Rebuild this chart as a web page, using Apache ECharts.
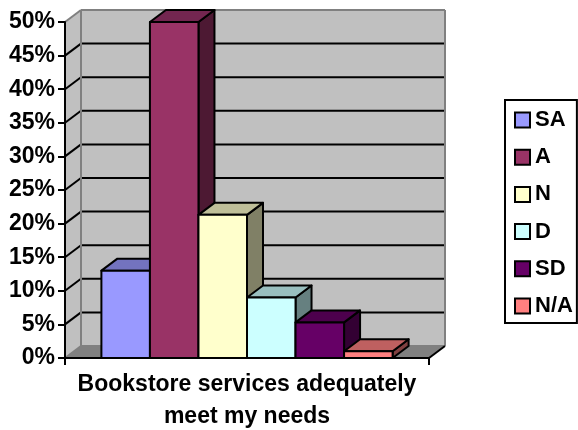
<!DOCTYPE html>
<html><head><meta charset="utf-8">
<style>html,body{margin:0;padding:0;background:#fff}#c{width:578px;height:430px}</style>
<script src="https://cdn.jsdelivr.net/npm/echarts@6/dist/echarts.min.js"></script>
</head><body><div id="c"></div>
<script>
const categories = ['Bookstore services adequately\nmeet my needs'];
const seriesNames = ['SA','A','N','D','SD','N/A'];
const seriesValues = [13, 50, 21.3, 9, 5.3, 1];
const faceColors = ['#9999ff','#993366','#ffffcc','#ccffff','#660066','#ff8080'];
const topColors  = ['#7373bf','#732650','#bfbf99','#99bfbf','#4d004d','#bf6060'];
const sideColors = ['#4d4d80','#4d1933','#808066','#668080','#330033','#804040'];
const yTicks = [0,5,10,15,20,25,30,35,40,45,50];
const DX = 16, DY = -12, GROUP = 0.8;
const FONT = '"Liberation Sans", Arial, sans-serif';

function poly(points, fill, stroke, lw) {
  return {type:'polygon', shape:{points}, style:{fill, stroke, lineWidth:lw, lineJoin:'round'}};
}
function line(x1,y1,x2,y2,stroke,lw){
  return {type:'line', shape:{x1,y1,x2,y2}, style:{stroke, lineWidth:lw}};
}
function renderWall(params, api) {
  const band = api.size([1,0])[0];
  const cx = api.coord([0,0])[0];
  const L = cx - band/2, R = cx + band/2;
  const y0 = api.coord([0,0])[1], yT = api.coord([0,50])[1];
  const ch = [
    poly([[L,y0],[L+DX,y0+DY],[R+DX,y0+DY],[R,y0]], '#808080', 'none', 0),
    poly([[L,y0],[L+DX,y0+DY],[L+DX,yT+DY],[L,yT]], '#c0c0c0', 'none', 0),
    poly([[L+DX,y0+DY],[R+DX,y0+DY],[R+DX,yT+DY],[L+DX,yT+DY]], '#c0c0c0', 'none', 0)
  ];
  yTicks.forEach(t => {
    const y = api.coord([0,t])[1];
    if (t > 0 && t < 50) {
      ch.push(line(L,y,L+DX,y+DY,'#000',2));
      ch.push(line(L+DX,y+DY,R+DX,y+DY,'#000',2));
    }
  });
  ch.push(line(L+DX,y0+DY,R+DX,y0+DY,'#808080',2));
  ch.push(line(L+DX,yT+DY,R+DX,yT+DY,'#808080',2));
  ch.push(line(L+DX,y0+DY,L+DX,yT+DY,'#808080',2));
  ch.push(line(R+DX,y0+DY,R+DX,yT+DY,'#808080',2));
  ch.push(line(L,yT,L+DX,yT+DY,'#808080',2));
  ch.push(line(L,y0,L+DX,y0+DY,'#808080',2));
  ch.push(line(R,y0,R+DX,y0+DY,'#000',2));
  return {type:'group', children:ch};
}
function renderBar(i) {
  return function(params, api) {
    const band = api.size([1,0])[0];
    const cx = api.coord([0,0])[0];
    const w = band*GROUP/seriesNames.length;
    const x = cx - band*GROUP/2 + i*w;
    const y0 = api.coord([0,0])[1];
    const y = api.coord([0,api.value(1)])[1];
    const s = '#000', lw = 2;
    return {type:'group', children:[
      poly([[x+w,y0],[x+w+DX,y0+DY],[x+w+DX,y+DY],[x+w,y]], sideColors[i], s, lw),
      poly([[x,y],[x+DX,y+DY],[x+w+DX,y+DY],[x+w,y]], topColors[i], s, lw),
      poly([[x,y0],[x+w,y0],[x+w,y],[x,y]], faceColors[i], s, lw)
    ]};
  };
}
const series = [{
  type:'custom', name:'wall', silent:true, z:1, data:[[0,0]], renderItem:renderWall,
  encode:{x:0,y:1}, tooltip:{show:false}
}];
seriesNames.forEach((n,i)=>series.push({
  type:'custom', name:n, z:2+i, data:[[0,seriesValues[i]]], renderItem:renderBar(i),
  encode:{x:0,y:1}, itemStyle:{color:faceColors[i]}
}));
const chart = echarts.init(document.getElementById('c'), null, {renderer:'canvas'});
chart.setOption({
  animation:false,
  backgroundColor:'#ffffff',
  grid:{left:65,right:149,top:22,bottom:72,containLabel:false,outerBoundsMode:'none'},
  legend:{
    data:seriesNames, orient:'vertical', left:505, top:100,
    padding:[9,4,6,9], itemGap:15.2, itemWidth:15, itemHeight:15,
    borderColor:'#000', borderWidth:2, backgroundColor:'#fff', selectedMode:false,
    itemStyle:{borderColor:'#000',borderWidth:2},
    textStyle:{fontFamily:FONT,fontWeight:'bold',fontSize:22,color:'#000',lineHeight:22},
    icon:'rect'
  },
  xAxis:{
    type:'category', data:categories, z:20,
    axisLine:{lineStyle:{color:'#000',width:2}},
    axisTick:{show:true,length:7,alignWithLabel:false,lineStyle:{color:'#000',width:2}},
    axisLabel:{fontFamily:FONT,fontWeight:'bold',fontSize:23,color:'#000',lineHeight:32,margin:11,interval:0,overflow:'none',width:400},
    splitLine:{show:false}
  },
  yAxis:{
    type:'value', min:0, max:50, interval:5, z:20,
    axisLine:{show:true,lineStyle:{color:'#000',width:2}},
    axisTick:{show:true,length:7,lineStyle:{color:'#000',width:2}},
    axisLabel:{formatter:'{value}%',fontFamily:FONT,fontWeight:'bold',fontSize:23,color:'#000',margin:10,showMinLabel:true,showMaxLabel:true},
    splitLine:{show:false}
  },
  series
});
</script></body></html>
